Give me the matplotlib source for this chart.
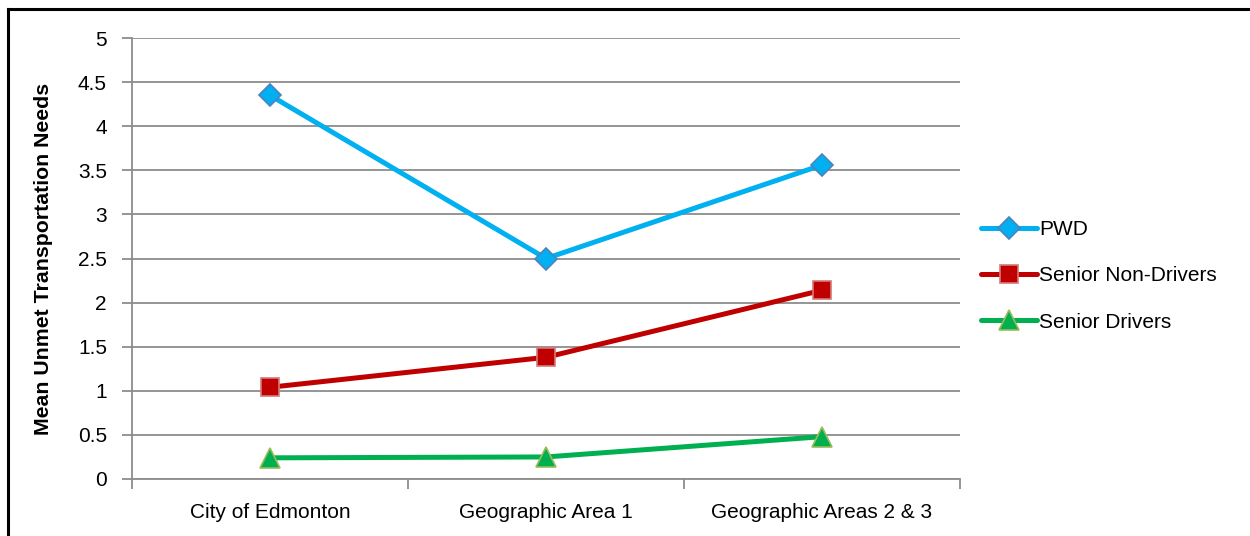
import matplotlib
matplotlib.use('Agg')
import matplotlib.pyplot as plt
from matplotlib.lines import Line2D

plt.rcParams['font.family'] = ['Liberation Sans Narrow', 'Liberation Sans', 'DejaVu Sans']

categories = ['City of Edmonton', 'Geographic Area 1', 'Geographic Areas 2 & 3']
pwd = [4.35, 2.50, 3.56]
senior_non_drivers = [1.04, 1.38, 2.14]
senior_drivers = [0.24, 0.25, 0.48]
y_ticks = [0, 0.5, 1, 1.5, 2, 2.5, 3, 3.5, 4, 4.5, 5]
y_tick_labels = ['0', '0.5', '1', '1.5', '2', '2.5', '3', '3.5', '4', '4.5', '5']

grid_col = '#8c8c8c'

fig = plt.figure(figsize=(12.5, 5.36), dpi=100, facecolor='white')
ax = fig.add_axes([132 / 1250, 57 / 536, 828 / 1250, 441 / 536])

x = list(range(len(categories)))
series = [
    ('PWD', pwd, '#00B0F0', 'D', '#4F81BD', 11),
    ('Senior Non-Drivers', senior_non_drivers, '#C00000', 's', '#D47A7A', 13),
    ('Senior Drivers', senior_drivers, '#00B050', '^', '#9BBB59', 14),
]
for name, vals, col, mk, edge, ms in series:
    ax.plot(x, vals, color=col, lw=3.6, marker=mk, markersize=ms,
            markerfacecolor=col, markeredgecolor=edge, markeredgewidth=1.2,
            label=name, zorder=3, solid_capstyle='round')

ax.set_xlim(-0.5, 2.5)
ax.set_ylim(0, 5)
ax.set_yticks(y_ticks)
ax.set_yticklabels(y_tick_labels)
ax.yaxis.grid(True, color=grid_col, lw=1.3)
ax.set_axisbelow(True)

ax.set_xticks(x)
ax.set_xticklabels(categories)
ax.set_xticks([-0.5, 0.5, 1.5, 2.5], minor=True)
ax.tick_params(axis='x', which='major', length=0, pad=17, labelsize=15)
ax.tick_params(axis='x', which='minor', length=7, width=1.3, color=grid_col, direction='out')
ax.tick_params(axis='y', length=7, width=1.3, color=grid_col, pad=11, labelsize=15)

for s in ['top', 'right']:
    ax.spines[s].set_visible(False)
for s in ['left', 'bottom']:
    ax.spines[s].set_color(grid_col)
    ax.spines[s].set_linewidth(1.3)

ax.set_ylabel('Mean Unmet Transportation Needs', fontsize=15.3, fontweight='bold')
ax.yaxis.set_label_coords((53 - 132) / 828, 0.5)

leg = ax.legend(loc='center left', bbox_to_anchor=(962 / 1250, (536 - 276) / 536),
                bbox_transform=fig.transFigure, frameon=False, fontsize=15,
                handlelength=2.7, handletextpad=0.1, labelspacing=1.3)

# outer border (top and left only visible)
fig.add_artist(Line2D([7.5 / 1250, 7.5 / 1250], [0, 1 - 8.5 / 536], color='black', lw=2.2,
                      transform=fig.transFigure))
fig.add_artist(Line2D([7.5 / 1250, 1], [1 - 8.5 / 536, 1 - 8.5 / 536], color='black', lw=2.2,
                      transform=fig.transFigure))

fig.savefig('out.png', dpi=100, facecolor='white')
